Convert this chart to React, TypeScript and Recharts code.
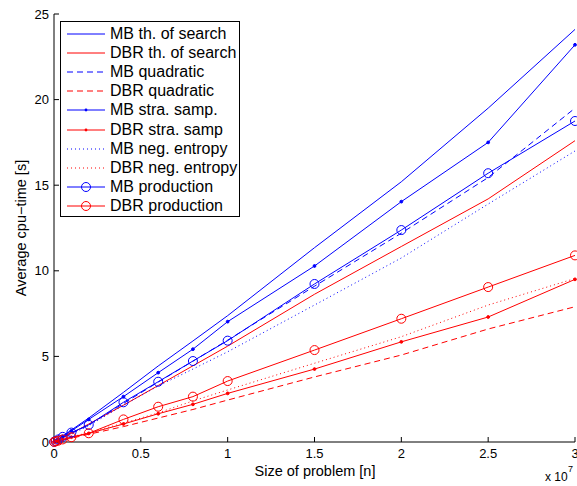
import React from 'react';
import { LineChart, Line, XAxis, YAxis, Legend } from 'recharts';

const BLUE = '#0000ff';
const RED = '#ff0000';
const FONT = '"Liberation Sans", Arial, Helvetica, sans-serif';

// problem sizes [n]
const problemSizes = [1e4, 1e5, 2.5e5, 5e5, 1e6, 2e6, 4e6, 6e6, 8e6, 1e7, 1.5e7, 2e7, 2.5e7, 3e7];

// average cpu-time [s]
const mbSearch = [0.01, 0.08, 0.18, 0.35, 0.7, 1.4, 2.9, 4.44, 5.9, 7.38, 11.35, 15.2, 19.5, 24.1];
const dbrSearch = [0.005, 0.05, 0.12, 0.25, 0.5, 1.05, 2.15, 3.3, 4.45, 5.6, 8.63, 11.42, 14.2, 17.6];
const mbQuadratic = [0.005, 0.05, 0.12, 0.25, 0.5, 1.0, 2.25, 3.5, 4.72, 5.95, 9.1, 12.2, 15.45, 19.5];
const dbrQuadratic = [0.003, 0.03, 0.07, 0.12, 0.22, 0.45, 0.9, 1.4, 1.9, 2.45, 3.8, 5.08, 6.6, 7.9];
const mbStrat = [0.01, 0.07, 0.16, 0.33, 0.65, 1.32, 2.65, 4.05, 5.42, 7.03, 10.28, 14.04, 17.5, 23.2];
const dbrStrat = [0.004, 0.03, 0.08, 0.14, 0.28, 0.5, 1.05, 1.65, 2.2, 2.84, 4.26, 5.85, 7.3, 9.5];
const mbEntropy = [0.005, 0.04, 0.1, 0.22, 0.45, 0.95, 2.15, 3.27, 4.26, 5.27, 8.0, 10.75, 13.9, 17.0];
const dbrEntropy = [0.004, 0.03, 0.08, 0.15, 0.3, 0.55, 1.1, 1.7, 2.4, 3.04, 4.6, 6.15, 8.0, 9.55];
const mbProduction = [0.01, 0.06, 0.15, 0.3, 0.55, 1.0, 2.32, 3.52, 4.73, 5.92, 9.23, 12.38, 15.7, 18.75];
const dbrProduction = [0.005, 0.04, 0.08, 0.15, 0.28, 0.51, 1.32, 2.06, 2.65, 3.56, 5.37, 7.2, 9.05, 10.9];

const xTicks = [0, 5e6, 1e7, 1.5e7, 2e7, 2.5e7, 3e7];
const yTicks = [0, 5, 10, 15, 20, 25];

type Marker = 'none' | 'dot' | 'circle';
interface Series { key: string; name: string; color: string; dash?: string; marker: Marker; values: number[] }

const series: Series[] = [
  { key: 'mbSearch', name: 'MB th. of search', color: BLUE, marker: 'none', values: mbSearch },
  { key: 'dbrSearch', name: 'DBR th. of search', color: RED, marker: 'none', values: dbrSearch },
  { key: 'mbQuadratic', name: 'MB quadratic', color: BLUE, dash: '6 4', marker: 'none', values: mbQuadratic },
  { key: 'dbrQuadratic', name: 'DBR quadratic', color: RED, dash: '6 4', marker: 'none', values: dbrQuadratic },
  { key: 'mbStrat', name: 'MB stra. samp.', color: BLUE, marker: 'dot', values: mbStrat },
  { key: 'dbrStrat', name: 'DBR stra. samp', color: RED, marker: 'dot', values: dbrStrat },
  { key: 'mbEntropy', name: 'MB neg. entropy', color: BLUE, dash: '1 3', marker: 'none', values: mbEntropy },
  { key: 'dbrEntropy', name: 'DBR neg. entropy', color: RED, dash: '1 3', marker: 'none', values: dbrEntropy },
  { key: 'mbProduction', name: 'MB production', color: BLUE, marker: 'circle', values: mbProduction },
  { key: 'dbrProduction', name: 'DBR production', color: RED, marker: 'circle', values: dbrProduction },
];

const data = problemSizes.map((x, i) => {
  const row: Record<string, number> = { x };
  series.forEach((s) => { row[s.key] = s.values[i]; });
  return row;
});

const dotFor = (s: Series) => {
  if (s.marker === 'dot') return { r: 1.4, fill: s.color, stroke: s.color, strokeWidth: 1 };
  if (s.marker === 'circle') return { r: 4.5, fill: 'none', stroke: s.color, strokeWidth: 1 };
  return false;
};

const LegendBox = () => (
  <div
    style={{
      border: '1px solid #000',
      background: '#fff',
      width: 180,
      height: 196,
      boxSizing: 'border-box',
      paddingTop: 2,
      fontFamily: FONT,
      fontSize: 16,
      color: '#000',
    }}
  >
    {series.map((s) => (
      <div key={s.key} style={{ display: 'flex', alignItems: 'center', height: 19.1, whiteSpace: 'nowrap' }}>
        <svg width={38} height={19} style={{ marginLeft: 6, marginRight: 5, flex: 'none' }}>
          <line x1={0} y1={10} x2={38} y2={10} stroke={s.color} strokeWidth={1} strokeDasharray={s.dash} />
          {s.marker === 'dot' && <circle cx={19} cy={10} r={1.4} fill={s.color} />}
          {s.marker === 'circle' && <circle cx={19} cy={10} r={4.5} fill="none" stroke={s.color} />}
        </svg>
        <span style={{ lineHeight: '19px' }}>{s.name}</span>
      </div>
    ))}
  </div>
);

const tickStyle = { fontSize: 13, fill: '#000', fontFamily: FONT };
const axisLine = { stroke: '#000', strokeWidth: 1 };
const tickLine = { stroke: '#000', strokeWidth: 1 };

const textBase: React.CSSProperties = {
  position: 'absolute',
  fontFamily: FONT,
  whiteSpace: 'nowrap',
  color: '#000',
  lineHeight: 1,
};

export default function App() {
  return (
    <div style={{ position: 'absolute', left: 0, top: 0, width: 577, height: 486, background: '#fff' }}>
      <LineChart width={577} height={486} data={data} margin={{ top: 14, right: 2, bottom: 0, left: 0 }}>
        <XAxis
          dataKey="x"
          type="number"
          domain={[0, 3e7]}
          ticks={xTicks}
          interval={0}
          height={44}
          tickSize={-5}
          tickMargin={12}
          axisLine={axisLine}
          tickLine={tickLine}
          tick={tickStyle}
          tickFormatter={(v: number) => (v === 0 ? '0' : String(v / 1e7))}
        />
        <XAxis
          xAxisId="top"
          orientation="top"
          dataKey="x"
          type="number"
          domain={[0, 3e7]}
          ticks={xTicks}
          interval={0}
          height={0}
          tickSize={-5}
          axisLine={axisLine}
          tickLine={tickLine}
          tick={tickStyle}
          tickFormatter={() => ''}
        />
        <YAxis
          type="number"
          domain={[0, 25]}
          ticks={yTicks}
          interval={0}
          width={54}
          tickSize={-5}
          tickMargin={10}
          axisLine={axisLine}
          tickLine={tickLine}
          tick={tickStyle}
        />
        <YAxis
          yAxisId="right"
          orientation="right"
          type="number"
          domain={[0, 25]}
          ticks={yTicks}
          interval={0}
          width={0}
          tickSize={-5}
          axisLine={axisLine}
          tickLine={tickLine}
          tick={tickStyle}
          tickFormatter={() => ''}
        />
        {series.map((s) => (
          <Line
            key={s.key}
            dataKey={s.key}
            name={s.name}
            type="linear"
            stroke={s.color}
            strokeWidth={1}
            strokeDasharray={s.dash}
            dot={dotFor(s)}
            activeDot={false}
            isAnimationActive={false}
          />
        ))}
        <Legend
          layout="horizontal"
          verticalAlign="middle"
          align="center"
          wrapperStyle={{ position: 'absolute', left: 60, top: 21, width: 'auto', height: 'auto' }}
          content={() => <LegendBox />}
        />
      </LineChart>
      <div style={{ ...textBase, left: 315, top: 471, fontSize: 14.5, transform: 'translate(-50%, -50%)' }}>
        Size of problem [n]
      </div>
      <div
        style={{ ...textBase, left: 21, top: 228, fontSize: 14.5, transform: 'translate(-50%, -50%) rotate(-90deg)' }}
      >
        Average cpu−time [s]
      </div>
      <div style={{ ...textBase, left: 545, top: 471, fontSize: 12 }}>x 10</div>
      <div style={{ ...textBase, left: 568, top: 465, fontSize: 9 }}>7</div>
    </div>
  );
}
